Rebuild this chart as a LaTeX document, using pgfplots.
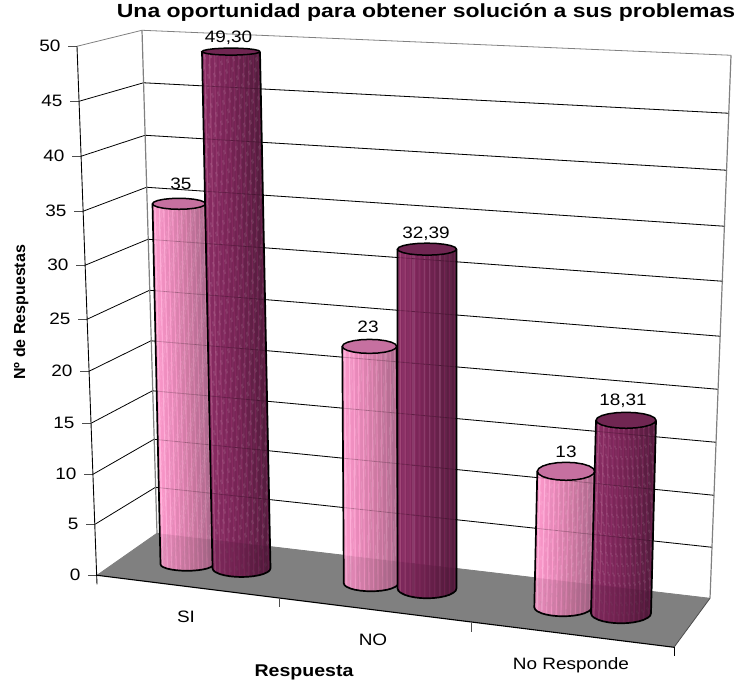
\documentclass[border=0pt]{standalone}
\usepackage{fontspec}
\setmainfont{Liberation Sans}
\usepackage{pgfplots}
\pgfplotsset{compat=1.18}
\usepackage{pgfplotstable}

\definecolor{pinktop}{RGB}{198,112,160}
\definecolor{darktop}{RGB}{112,38,82}
\definecolor{wallgray}{RGB}{128,128,128}
\definecolor{floorgray}{RGB}{138,138,138}
\pgfplotsset{
  colormap={pinkcyl}{rgb255(0cm)=(255,190,226); rgb255(2.5cm)=(255,155,205); rgb255(4.5cm)=(232,138,186); rgb255(7cm)=(205,122,162); rgb255(10cm)=(170,104,140)},
  colormap={darkcyl}{rgb255(0cm)=(172,84,130); rgb255(2.5cm)=(138,44,100); rgb255(6cm)=(118,36,84); rgb255(10cm)=(82,28,60)},
}
\newcommand\wide[1]{\scalebox{1.15}[1]{#1}}

% strips of a cylinder: t across, s along, g position in the colormap
\pgfplotstableread{
t s g
-1.0000 0 .250
-1.0000 1 .250
-.9583 0 .266
-.9583 1 .266
-.9167 0 .062
-.9167 1 .062
-.8750 0 .297
-.8750 1 .297
-.8333 0 .313
-.8333 1 .313
-.7917 0 .328
-.7917 1 .328
-.7500 0 .124
-.7500 1 .124
-.7083 0 .359
-.7083 1 .359
-.6667 0 .375
-.6667 1 .375
-.6250 0 .391
-.6250 1 .391
-.5833 0 .186
-.5833 1 .186
-.5417 0 .422
-.5417 1 .422
-.5000 0 .438
-.5000 1 .438
-.4583 0 .453
-.4583 1 .453
-.4167 0 .249
-.4167 1 .249
-.3750 0 .484
-.3750 1 .484
-.3333 0 .500
-.3333 1 .500
-.2917 0 .516
-.2917 1 .516
-.2500 0 .311
-.2500 1 .311
-.2083 0 .547
-.2083 1 .547
-.1667 0 .563
-.1667 1 .563
-.1250 0 .578
-.1250 1 .578
-.0833 0 .374
-.0833 1 .374
-.0417 0 .609
-.0417 1 .609
0.0000 0 .625
0.0000 1 .625
0.0417 0 .641
0.0417 1 .641
0.0833 0 .436
0.0833 1 .436
0.1250 0 .672
0.1250 1 .672
0.1667 0 .688
0.1667 1 .688
0.2083 0 .703
0.2083 1 .703
0.2500 0 .499
0.2500 1 .499
0.2917 0 .734
0.2917 1 .734
0.3333 0 .750
0.3333 1 .750
0.3750 0 .766
0.3750 1 .766
0.4167 0 .561
0.4167 1 .561
0.4583 0 .797
0.4583 1 .797
0.5000 0 .813
0.5000 1 .813
0.5417 0 .828
0.5417 1 .828
0.5833 0 .624
0.5833 1 .624
0.6250 0 .859
0.6250 1 .859
0.6667 0 .875
0.6667 1 .875
0.7083 0 .891
0.7083 1 .891
0.7500 0 .686
0.7500 1 .686
0.7917 0 .922
0.7917 1 .922
0.8333 0 .938
0.8333 1 .938
0.8750 0 .953
0.8750 1 .953
0.9167 0 .749
0.9167 1 .749
0.9583 0 .984
0.9583 1 .984
1.0000 0 1.00
1.0000 1 1.00
}\cylstrips

% outline of a cylinder body
\pgfplotstableread{
t s
-1 1
-1 0
-0.97 0
-0.9 0
-0.75 0
-0.6 0
-0.4 0
-0.2 0
0 0
0.2 0
0.4 0
0.6 0
0.75 0
0.9 0
0.97 0
1 0
1 1
}\cylline

% unit circle for the cap
\pgfplotstableread{
c n
1 0
0.951 0.309
0.809 0.588
0.588 0.809
0.309 0.951
0 1
-0.309 0.951
-0.588 0.809
-0.809 0.588
-0.951 0.309
-1 0
-0.951 -0.309
-0.809 -0.588
-0.588 -0.809
-0.309 -0.951
0 -1
0.309 -0.951
0.588 -0.809
0.809 -0.588
0.951 -0.309
1 0
}\cylcap

% #1 pink/dark, #2 #3 base centre, #4 radius, #5 base ry, #6 top x, #7 top ry, #8 value, #9 px per unit
\newcommand\cyl[9]{
  \addplot[surf, shader=flat corner, colormap name=#1cyl, point meta=\thisrow{g},
    mesh/rows=49, mesh/cols=2]
    table[x expr={#2+(#6-#2)*\thisrow{s}+#4*\thisrow{t}},
          y expr={#3-#8*#9*\thisrow{s}+(#5+(#7-#5)*\thisrow{s})*sqrt(abs(1-(\thisrow{t})^2))}] {\cylstrips};
  \addplot[draw=black, line width=1.7pt, no markers]
    table[x expr={#2+(#6-#2)*\thisrow{s}+#4*\thisrow{t}},
          y expr={#3-#8*#9*\thisrow{s}+(#5+(#7-#5)*\thisrow{s})*sqrt(abs(1-(\thisrow{t})^2))}] {\cylline};
  \addplot[draw=black, line width=1.5pt, fill=#1top, no markers]
    table[x expr={#6+#4*\thisrow{c}}, y expr={#3-#8*#9+#7*\thisrow{n}}] {\cylcap};
}

% #1 level, #2 #3 front, #4 #5 back left, #6 #7 back right, #8 line colour
\newcommand\lev[8]{
  \addplot[#8, line width=0.8pt, no markers] coordinates {(#2,#3) (#4,#5) (#6,#7)};
  \addplot[wallgray!60!black, line width=0.8pt, no markers] coordinates {(#2-9,#3) (#2,#3)};
  \node[anchor=east, font=\fontsize{16.5}{18}\selectfont] at (axis cs:#2-13,#3) {\wide{#1}};
}

\begin{document}
\begin{tikzpicture}
\begin{axis}[
    scale only axis,
    width=749pt, height=685pt,
    xmin=0, xmax=749, ymin=0, ymax=685,
    y dir=reverse,
    hide axis,
    clip=false,
    point meta min=0, point meta max=1,
]
\path (axis cs:0,0) rectangle (axis cs:749,685);
% grid on walls
\lev{50}{77}{45}{142}{29}{731}{54}{wallgray}
\lev{45}{79}{100}{143.5}{81.5}{729}{112}{black}
\lev{40}{81}{155}{145}{134}{727}{169}{black}
\lev{35}{83}{210}{146.5}{186}{725}{225}{black}
\lev{30}{85}{264}{148}{238}{723}{280}{black}
\lev{25}{87}{318}{149.5}{289}{720.5}{335}{black}
\lev{20}{89}{370}{151}{339.5}{718}{388}{black}
\lev{15}{91}{422}{152.5}{389.5}{716}{441}{black}
\lev{10}{93}{473}{154}{438}{714}{494}{black}
\lev{5}{95}{523}{155.5}{486}{712}{546}{black}
\lev{0}{97}{574}{157}{532}{710}{597}{wallgray}
% wall edges
\addplot[wallgray, line width=1.2pt, no markers] coordinates {(142,29) (157,532)};
\addplot[wallgray, line width=1.2pt, no markers] coordinates {(731,54) (710,597)};
\addplot[black, line width=0.9pt, no markers] coordinates {(77,45) (97,583)};
% floor
\addplot[fill=floorgray, draw=none, no markers] coordinates {(97,574) (157,532) (710,597) (674,646)} -- cycle;
% cylinders
\cyl{pink}{187}{563}{26.5}{6.5}{179}{5.5}{35}{10.3}
\cyl{dark}{241.5}{567}{29}{8.7}{231}{3.5}{49.30}{10.48}
\cyl{pink}{371}{582}{27.2}{8}{369.5}{7}{23}{10.3}
\cyl{dark}{427}{587}{29.5}{10}{427}{6}{32.39}{10.47}
\cyl{pink}{563}{606}{28.7}{9}{566}{9}{13}{10.46}
\cyl{dark}{621}{612}{30}{10}{626}{8}{18.31}{10.54}
% floor and grid show faintly through the cylinders
\addplot[fill=black, fill opacity=0.07, draw=none, no markers] coordinates {(97,574) (157,532) (710,597) (674,646)} -- cycle;
\addplot[black, opacity=0.18, line width=0.8pt, no markers] coordinates {(154,438) (714,494)};
\addplot[black, opacity=0.18, line width=0.8pt, no markers] coordinates {(155.5,486) (712,546)};
\addplot[black, opacity=0.18, line width=0.8pt, no markers] coordinates {(152.5,389.5) (716,441)};
\addplot[black, opacity=0.18, line width=0.8pt, no markers] coordinates {(151,339.5) (718,388)};
\addplot[black, opacity=0.18, line width=0.8pt, no markers] coordinates {(149.5,289) (720.5,335)};
\addplot[black, opacity=0.18, line width=0.8pt, no markers] coordinates {(148,238) (723,280)};
\addplot[black, opacity=0.18, line width=0.8pt, no markers] coordinates {(146.5,186) (725,225)};
\addplot[black, opacity=0.18, line width=0.8pt, no markers] coordinates {(145,134) (727,169)};
\addplot[black, opacity=0.18, line width=0.8pt, no markers] coordinates {(143.5,81.5) (729,112)};
% floor front and ticks
\addplot[black, line width=1.1pt, no markers] coordinates {(97,574) (674,646)};
\addplot[wallgray!60!black, line width=0.8pt, no markers] coordinates {(674,646) (710,597)};
\addplot[wallgray!60!black, line width=0.8pt, no markers] coordinates {(279,597) (279,606)};
\addplot[wallgray!60!black, line width=0.8pt, no markers] coordinates {(471,622) (471,631)};
\addplot[black, line width=0.8pt, no markers] coordinates {(674,646) (674,655)};
% value labels
\begin{scope}[every node/.style={font=\fontsize{16.5}{18}\selectfont}]
\node at (axis cs:181,183) {\wide{35}};
\node at (axis cs:228.5,37) {\wide{49,30}};
\node at (axis cs:368,326) {\wide{23}};
\node at (axis cs:426,233) {\wide{32,39}};
\node at (axis cs:566,451) {\wide{13}};
\node at (axis cs:623,400) {\wide{18,31}};
\node at (axis cs:186,616) {\wide{SI}};
\node at (axis cs:373,639) {\wide{NO}};
\node at (axis cs:571,664) {\wide{No Responde}};
\end{scope}
\node[font=\bfseries\fontsize{19}{21}\selectfont] at (axis cs:426,11) {\scalebox{1.21}[1]{Una oportunidad para obtener solución a sus problemas}};
\node[font=\bfseries\fontsize{17}{19}\selectfont] at (axis cs:304,671) {\scalebox{1.15}[1]{Respuesta}};
\node[font=\bfseries\fontsize{16}{19}\selectfont, rotate=90] at (axis cs:21,311) {Nº de Respuestas};
\end{axis}
\end{tikzpicture}
\end{document}
